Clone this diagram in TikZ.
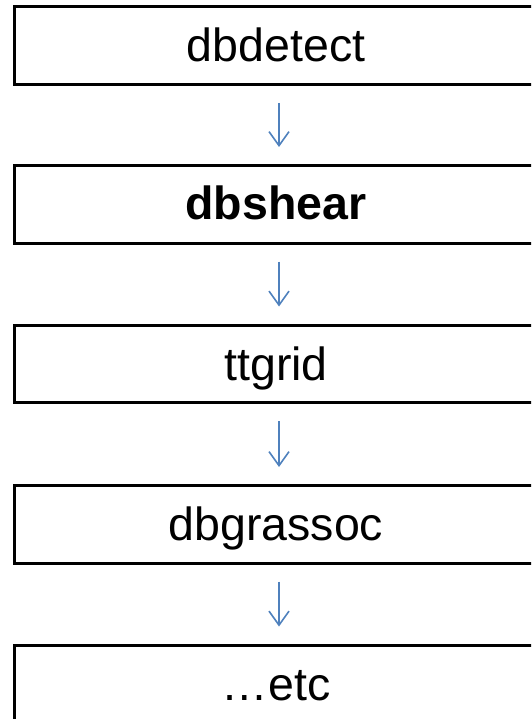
\documentclass[tikz,border=0pt]{standalone}
\usepackage{fontspec}
\setmainfont{Liberation Sans}
\usetikzlibrary{arrows.meta}
\begin{document}
\begin{tikzpicture}[x=1pt,y=-1pt,
  stepbox/.style={draw=black, line width=3pt, minimum width=526pt, minimum height=77.5pt, inner sep=0pt, anchor=north west},
  lbl/.style={font=\fontsize{46.5}{52}\selectfont, anchor=base, inner sep=0pt},
  flow/.style={draw={rgb,255:red,79;green,129;blue,189}, line width=1.6pt, -{Straight Barb[length=14pt,width=20pt,line width=1.6pt]}, shorten <=17pt, shorten >=17pt}]
\useasboundingbox (0,0) rectangle (531,719);
\clip (0,0) rectangle (531,719);
\node[stepbox] (b1) at (13,5.5) {};
\node[stepbox] (b2) at (13,164) {};
\node[stepbox] (b3) at (13,323.5) {};
\node[stepbox] (b4) at (13,484) {};
\node[stepbox] (b5) at (13,643.5) {};
\node[lbl] (t1) at (276,62) {dbdetect};
\node[lbl] (t2) at (276,219.5) {\bfseries dbshear};
\node[lbl] (t3) at (276,380) {ttgrid};
\node[lbl] (t4) at (276,540) {dbgrassoc};
\node[lbl] (t5) at (276,700) {…etc};
\coordinate (a1) at (279,0);
\draw[flow] (b1.south -| a1) -- (b2.north -| a1);
\draw[flow] (b2.south -| a1) -- (b3.north -| a1);
\draw[flow] (b3.south -| a1) -- (b4.north -| a1);
\draw[flow] (b4.south -| a1) -- (b5.north -| a1);
\end{tikzpicture}
\end{document}
